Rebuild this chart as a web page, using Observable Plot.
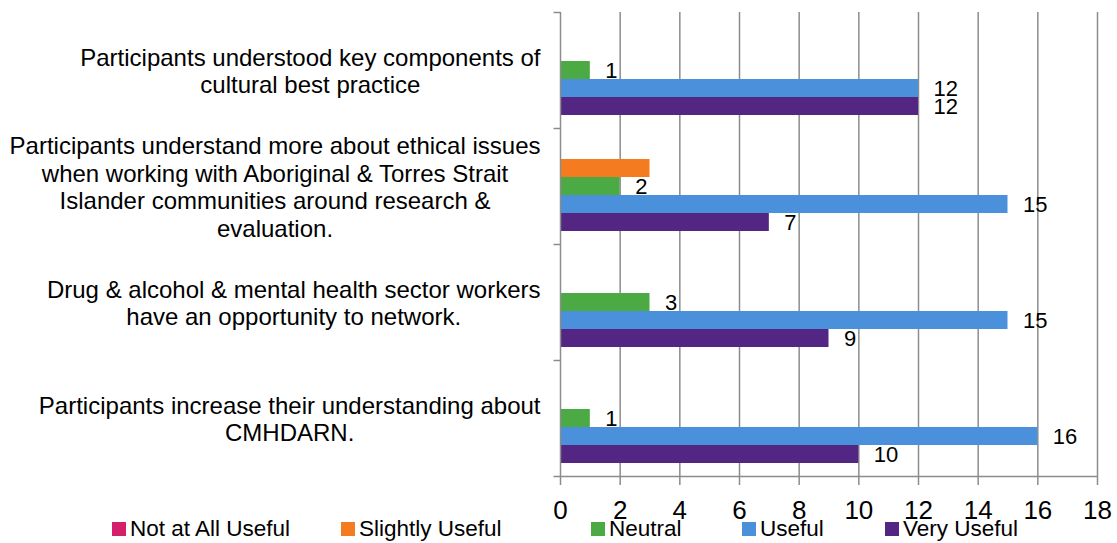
<!DOCTYPE html>
<html><head><meta charset="utf-8">
<script src="https://cdn.jsdelivr.net/npm/d3@7"></script>
<script src="https://cdn.jsdelivr.net/npm/@observablehq/plot@0.6"></script>
<style>
body{margin:0;background:#fff;font-family:"Liberation Sans",Arial,sans-serif;}
#chart svg{display:block;}
#legend{position:relative;width:1117px;height:23px;font-size:22.5px;color:#000;}
.item{position:absolute;top:-3px;height:23px;line-height:23px;display:flex;align-items:center;white-space:nowrap;}
.sw{width:14px;height:14px;margin-right:4px;flex:none;}
[aria-label="x-axis tick"], [aria-label="x-axis tick"] *{stroke:#8c8c8c;stroke-width:1.5px;}
</style></head><body>
<div id="chart"></div><div id="legend"></div>
<script>
// ---- data ----
const categories = [
  "Participants understood key components of cultural best practice",
  "Participants understand more about ethical issues when working with Aboriginal & Torres Strait Islander communities around research & evaluation.",
  "Drug & alcohol & mental health sector workers have an opportunity to network.",
  "Participants increase their understanding about CMHDARN."
];
const categoryLines = [
  "Participants understood key components of\ncultural best practice",
  "Participants understand more about ethical issues\nwhen working with Aboriginal & Torres Strait\nIslander communities around research &\nevaluation.",
  "Drug & alcohol & mental health sector workers\nhave an opportunity to network.",
  "Participants increase their understanding about\nCMHDARN."
];
const seriesNames = ["Not at All Useful", "Slightly Useful", "Neutral", "Useful", "Very Useful"];
const notAtAllUseful = [null, null, null, null];
const slightlyUseful = [null, 3, null, null];
const neutral = [1, 2, 3, 1];
const useful = [12, 15, 15, 16];
const veryUseful = [12, 7, 9, 10];
const labeledSeries = ["Neutral", "Useful", "Very Useful"];
const xTicks = [0, 2, 4, 6, 8, 10, 12, 14, 16, 18];
const colors = ["#D4206A", "#F47B20", "#4BAA43", "#4A90DB", "#532683"];

// ---- build table ----
const seriesValues = [notAtAllUseful, slightlyUseful, neutral, useful, veryUseful];
const rows = [];
categories.forEach((c, i) => seriesValues.forEach((vals, j) => {
  if (vals[i] != null) rows.push({cat: c, series: seriesNames[j], value: vals[i]});
}));

// ---- layout ----
const W = 1117, H = 520, ML = 560, MR = 20, MT = 12, MB = 44;
const gray = "#8c8c8c";
const font = "'Liberation Sans', Arial, sans-serif";
const ctx = document.createElement("canvas").getContext("2d");
ctx.font = "24px 'Liberation Sans'";
const widths = categoryLines.map(t => d3.max(t.split("\n"), l => ctx.measureText(l).width));
const hTick = {draw(c) { c.moveTo(-7, 0); c.lineTo(0, 0); }};
const hLine = {draw(c) { c.moveTo(-7, 0); c.lineTo(W - ML - MR, 0); }};

const chart = Plot.plot({
  width: W, height: H, marginLeft: ML, marginRight: MR, marginTop: MT, marginBottom: MB,
  style: {fontFamily: font, fontSize: "26px", color: "#000", background: "#fff", overflow: "visible"},
  x: {domain: [0, 18], ticks: xTicks, tickSize: 9, tickPadding: 15, label: null},
  y: {domain: seriesNames, paddingInner: 0, paddingOuter: 0.72, axis: null},
  fy: {domain: categories, padding: 0, axis: null, label: null},
  color: {domain: seriesNames, range: colors},
  marks: [
    Plot.ruleX(xTicks.filter(d => d > 0), {stroke: gray, strokeWidth: 1.5}),
    Plot.barX(rows, {fy: "cat", y: "series", x: "value", fill: "series"}),
    Plot.ruleX([0], {stroke: gray, strokeWidth: 1.5}),
    Plot.dot(categories, {fy: d => d, frameAnchor: "top-left", symbol: hTick, fill: "none", stroke: gray, strokeWidth: 1.5}),
    Plot.dot([categories[categories.length - 1]], {fy: d => d, frameAnchor: "bottom-left", symbol: hLine, fill: "none", stroke: gray, strokeWidth: 1.5}),
    Plot.text(rows.filter(d => labeledSeries.includes(d.series)), {
      fy: "cat", y: "series", x: "value", text: d => String(d.value),
      dx: 15, textAnchor: "start", fontSize: 22, fill: "#000"
    }),
    ...categories.map((c, i) => Plot.text([c], {
      fy: d => d, frameAnchor: "left", text: () => categoryLines[i],
      dx: -(20 + widths[i] / 2), textAnchor: "middle", lineHeight: 1.15, fontSize: 24, fill: "#000"
    }))
  ]
});
document.getElementById("chart").append(chart);

// ---- legend ----
const legendLeft = [112, 341, 591, 742, 885];
const legend = d3.select("#legend");
seriesNames.forEach((s, i) => {
  const it = legend.append("div").attr("class", "item").style("left", legendLeft[i] + "px");
  it.append("div").attr("class", "sw").style("background", colors[i]);
  it.append("span").text(s);
});
</script>
</body></html>
